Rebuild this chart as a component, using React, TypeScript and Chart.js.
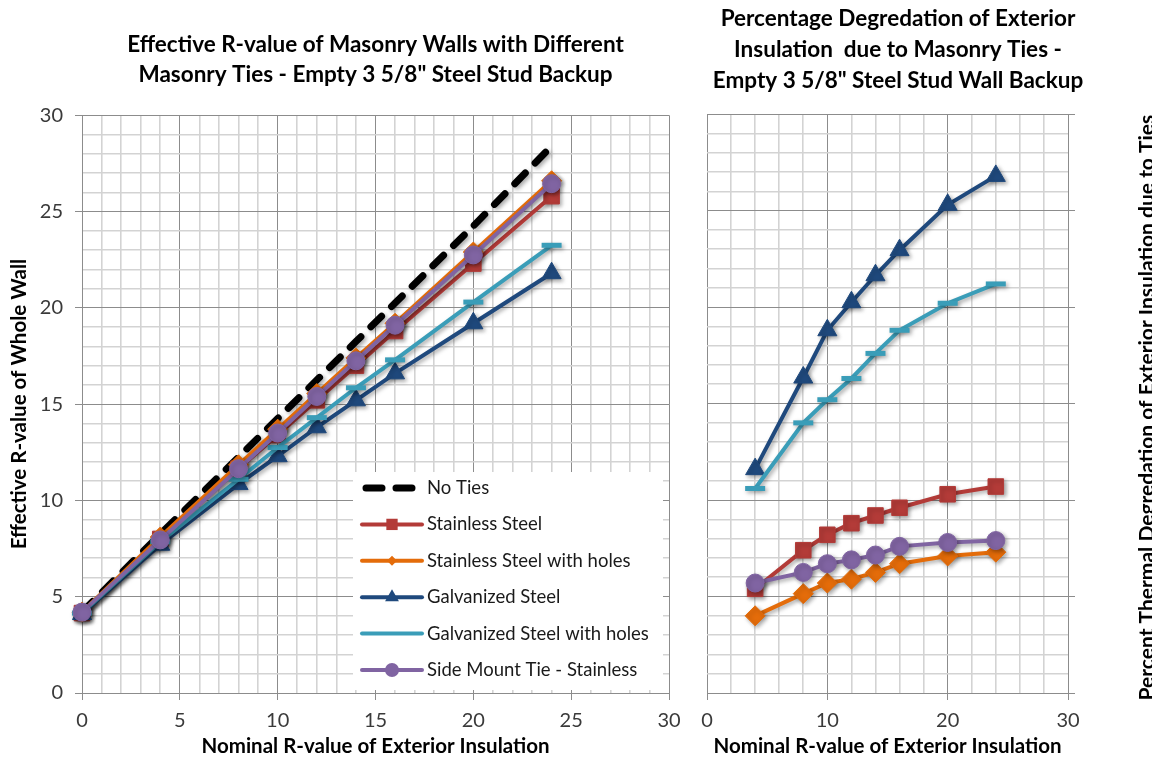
import React, { useEffect, useRef } from 'react';
import { Chart, registerables } from 'chart.js';

Chart.register(...registerables);

// ---------- Data ----------
const xLeft = [0, 4, 8, 10, 12, 14, 16, 20, 24];
const noTies = [4.2, 8.25, 12.25, 14.25, 16.25, 18.25, 20.25, 24.25, 28.4];
const stainless = [4.15, 8.0, 11.65, 13.4, 15.2, 17.0, 18.8, 22.3, 25.8];
const stainlessHoles = [4.2, 8.1, 11.85, 13.7, 15.55, 17.4, 19.2, 22.9, 26.6];
const galvanized = [4.1, 7.7, 10.85, 12.3, 13.8, 15.2, 16.6, 19.2, 21.8];
const galvanizedHoles = [4.15, 7.85, 11.1, 12.75, 14.3, 15.85, 17.3, 20.3, 23.25];
const sideMount = [4.2, 7.95, 11.65, 13.5, 15.4, 17.25, 19.1, 22.75, 26.45];

const xRight = [4, 8, 10, 12, 14, 16, 20, 24];
const pctStainless = [5.4, 7.4, 8.2, 8.8, 9.2, 9.6, 10.3, 10.7];
const pctStainlessHoles = [4.0, 5.15, 5.7, 5.9, 6.25, 6.7, 7.1, 7.3];
const pctGalvanized = [11.6, 16.35, 18.8, 20.25, 21.65, 22.95, 25.3, 26.8];
const pctGalvanizedHoles = [10.6, 14.0, 15.2, 16.3, 17.6, 18.8, 20.2, 21.2];
const pctSideMount = [5.7, 6.25, 6.7, 6.9, 7.15, 7.6, 7.8, 7.9];

const seriesLabels = [
  'No Ties',
  'Stainless Steel',
  'Stainless Steel with holes',
  'Galvanized Steel',
  'Galvanized Steel with holes',
  'Side Mount Tie - Stainless',
];
const seriesColors = ['#000000', '#B33B38', '#E46C0A', '#1F497D', '#3A9DB8', '#8064A2'];
const seriesPointStyles = ['none', 'rect', 'rectRot', 'triangle', 'line', 'circle'];
const seriesPointRadius = [0, 11, 10, 11, 10, 9];

const leftTitle = ['Effective R-value of Masonry Walls with Different', 'Masonry Ties - Empty 3 5/8" Steel Stud Backup'];
const rightTitle = ['Percentage Degredation of Exterior', 'Insulation  due to Masonry Ties -', 'Empty 3 5/8" Steel Stud Wall Backup'];
const xTitle = 'Nominal R-value of Exterior Insulation';
const leftYTitle = 'Effective R-value of Whole Wall';
const rightYTitle = 'Percent Thermal Degredation of Exterior Insulation due to Ties';

const FONT = "Lato, 'Open Sans', 'Liberation Sans', sans-serif";
const MAJOR = '#8c8c8c';
const MINOR = '#d3d3d3';

const pts = (xs: number[], ys: number[]) => xs.map((x, i) => ({ x, y: ys[i] }));

function dataset(i: number, xs: number[], ys: number[]) {
  const color = seriesColors[i];
  const isDash = i === 0;
  return {
    label: seriesLabels[i],
    data: pts(xs, ys),
    borderColor: color,
    backgroundColor: color,
    borderWidth: isDash ? 7 : 4,
    borderDash: isDash ? [15, 14] : [],
    borderCapStyle: isDash ? 'round' : 'butt',
    pointStyle: isDash ? false : seriesPointStyles[i],
    pointRadius: seriesPointRadius[i],
    pointHoverRadius: seriesPointRadius[i],
    pointBorderWidth: seriesPointStyles[i] === 'line' ? 5 : 1,
    pointBorderColor: color,
    pointBackgroundColor: color,
    tension: 0,
    fill: false,
    clip: false as any,
    order: 10 - i,
  };
}

function drawMarker(ctx: CanvasRenderingContext2D, style: string, x: number, y: number, r: number, color: string) {
  ctx.fillStyle = color;
  ctx.beginPath();
  if (style === 'rect') {
    const s = r * Math.SQRT1_2;
    ctx.rect(x - s, y - s, 2 * s, 2 * s);
  } else if (style === 'rectRot') {
    ctx.moveTo(x - r, y);
    ctx.lineTo(x, y - r);
    ctx.lineTo(x + r, y);
    ctx.lineTo(x, y + r);
    ctx.closePath();
  } else if (style === 'triangle') {
    ctx.moveTo(x, y - r);
    ctx.lineTo(x + r * 0.866, y + r * 0.5);
    ctx.lineTo(x - r * 0.866, y + r * 0.5);
    ctx.closePath();
  } else if (style === 'circle') {
    ctx.arc(x, y, r, 0, Math.PI * 2);
  } else {
    return;
  }
  ctx.fill();
}

const shadowPlugin = {
  id: 'seriesShadow',
  beforeDatasetDraw(chart: any) {
    const ctx = chart.ctx;
    ctx.save();
    ctx.shadowColor = 'rgba(0,0,0,0.35)';
    ctx.shadowBlur = 4;
    ctx.shadowOffsetX = 2;
    ctx.shadowOffsetY = 2;
  },
  afterDatasetDraw(chart: any) {
    chart.ctx.restore();
  },
};

const legendPlugin = {
  id: 'boxLegend',
  afterDraw(chart: any) {
    const { ctx, chartArea } = chart;
    const x0 = chartArea.right - 316;
    const y0 = chartArea.bottom - 221;
    ctx.save();
    ctx.fillStyle = '#ffffff';
    ctx.fillRect(x0, y0, 310, 218);
    const legendMarkerR = [0, 8, 5, 8, 0, 7];
    chart.data.datasets.forEach((ds: any, i: number) => {
      const cy = y0 + 16 + i * 36.4;
      const lx0 = x0 + 9;
      const lx1 = x0 + 69;
      const mx = (lx0 + lx1) / 2;
      ctx.strokeStyle = ds.borderColor;
      if (i === 0) {
        ctx.lineWidth = 7;
        ctx.lineCap = 'round';
        ctx.setLineDash([]);
        ctx.beginPath();
        ctx.moveTo(lx0 + 4, cy);
        ctx.lineTo(lx0 + 20, cy);
        ctx.moveTo(lx0 + 34, cy);
        ctx.lineTo(lx0 + 50, cy);
        ctx.stroke();
      } else {
        ctx.lineWidth = 4;
        ctx.lineCap = 'round';
        ctx.beginPath();
        ctx.moveTo(lx0, cy);
        ctx.lineTo(lx1, cy);
        ctx.stroke();
        drawMarker(ctx, seriesPointStyles[i], mx, cy, legendMarkerR[i], ds.borderColor);
      }
      ctx.fillStyle = '#1a1a1a';
      ctx.font = `18.5px ${FONT}`;
      ctx.textAlign = 'left';
      ctx.textBaseline = 'middle';
      ctx.fillText(ds.label, x0 + 74, cy);
    });
    ctx.restore();
  },
};

const rightTitlePlugin = {
  id: 'rightAxisTitle',
  afterDraw(chart: any) {
    const { ctx, chartArea } = chart;
    ctx.save();
    ctx.translate(chartArea.right + 79, (chartArea.top + chartArea.bottom) / 2 + 4);
    ctx.rotate(-Math.PI / 2);
    ctx.font = `bold 21px ${FONT}`;
    ctx.fillStyle = '#000';
    ctx.textAlign = 'center';
    ctx.textBaseline = 'middle';
    ctx.fillText(rightYTitle, 0, 0);
    ctx.restore();
  },
};

function gridOpts(majorEvery: number) {
  return {
    color: (c: any) => (c.tick && Math.round(c.tick.value) % majorEvery === 0 ? MAJOR : MINOR),
    lineWidth: (c: any) => (c.tick && Math.round(c.tick.value) % majorEvery === 0 ? 1 : 1.6),
    tickColor: (c: any) => (c.tick && Math.round(c.tick.value) % majorEvery === 0 ? MAJOR : 'rgba(0,0,0,0)'),
    tickLength: 7,
  };
}

export default function App() {
  const leftRef = useRef<HTMLCanvasElement>(null);
  const rightRef = useRef<HTMLCanvasElement>(null);

  useEffect(() => {
    const left = new Chart(leftRef.current as HTMLCanvasElement, {
      type: 'line',
      data: {
        datasets: [
          dataset(0, xLeft, noTies),
          dataset(1, xLeft, stainless),
          dataset(2, xLeft, stainlessHoles),
          dataset(3, xLeft, galvanized),
          dataset(4, xLeft, galvanizedHoles),
          dataset(5, xLeft, sideMount),
        ] as any,
      },
      options: {
        responsive: false,
        animation: false,
        events: [],
        layout: { padding: { left: 6, right: 21, top: 0, bottom: 0 } },
        plugins: {
          legend: { display: false },
          tooltip: { enabled: false },
          title: {
            display: true,
            fullSize: false,
            text: leftTitle,
            color: '#000',
            font: { family: FONT, size: 22.5, weight: 'bold', lineHeight: 1.34 },
            padding: { top: 30, bottom: 25 },
          },
        },
        scales: {
          x: {
            type: 'linear',
            min: 0,
            max: 30,
            afterFit: (s: any) => { s.height = 68; },
            ticks: {
              stepSize: 1,
              autoSkip: false,
              maxRotation: 0,
              padding: 9,
              color: '#3a3a3a',
              font: { family: FONT, size: 20 },
              callback: (v: any) => (Math.round(Number(v)) % 5 === 0 ? String(v) : ''),
            },
            grid: gridOpts(5) as any,
            border: { color: MAJOR },
            title: {
              display: true,
              text: xTitle,
              color: '#000',
              font: { family: FONT, size: 20.5, weight: 'bold' },
              padding: { top: 0, bottom: 2 },
            },
          },
          y: {
            type: 'linear',
            min: 0,
            max: 30,
            afterFit: (s: any) => { s.width = 76; },
            ticks: {
              stepSize: 1,
              autoSkip: false,
              padding: 12,
              color: '#3a3a3a',
              font: { family: FONT, size: 20 },
              callback: (v: any) => (Math.round(Number(v)) % 5 === 0 ? String(v) : ''),
            },
            grid: gridOpts(5) as any,
            border: { color: MAJOR },
            title: {
              display: true,
              text: leftYTitle,
              color: '#000',
              font: { family: FONT, size: 20.5, weight: 'bold' },
              padding: 1,
            },
          },
        },
      } as any,
      plugins: [shadowPlugin, legendPlugin],
    });

    const right = new Chart(rightRef.current as HTMLCanvasElement, {
      type: 'line',
      data: {
        datasets: [
          dataset(1, xRight, pctStainless),
          dataset(2, xRight, pctStainlessHoles),
          dataset(3, xRight, pctGalvanized),
          dataset(4, xRight, pctGalvanizedHoles),
          dataset(5, xRight, pctSideMount),
        ] as any,
      },
      options: {
        responsive: false,
        animation: false,
        events: [],
        layout: { padding: { left: 17, right: 63, top: 0, bottom: 0 } },
        plugins: {
          legend: { display: false },
          tooltip: { enabled: false },
          title: {
            display: true,
            fullSize: true,
            text: rightTitle,
            color: '#000',
            font: { family: FONT, size: 22.5, weight: 'bold', lineHeight: 1.38 },
            padding: { top: 3, bottom: 18 },
          },
        },
        scales: {
          x: {
            type: 'linear',
            min: 0,
            max: 30,
            afterFit: (s: any) => { s.height = 68; },
            ticks: {
              stepSize: 2,
              autoSkip: false,
              maxRotation: 0,
              padding: 9,
              color: '#3a3a3a',
              font: { family: FONT, size: 20 },
              callback: (v: any) => (Math.round(Number(v)) % 10 === 0 ? String(v) : ''),
            },
            grid: gridOpts(10) as any,
            border: { color: MAJOR },
            title: {
              display: true,
              text: xTitle,
              color: '#000',
              font: { family: FONT, size: 20.5, weight: 'bold' },
              padding: { top: 0, bottom: 2 },
            },
          },
          y: {
            type: 'linear',
            position: 'right',
            min: 0,
            max: 30,
            afterFit: (s: any) => { s.width = 21; },
            ticks: {
              stepSize: 1,
              autoSkip: false,
              padding: 15,
              color: '#3a3a3a',
              font: { family: FONT, size: 20 },
              callback: (v: any) => (Math.round(Number(v)) % 5 === 0 ? `${v}%` : ''),
            },
            grid: gridOpts(5) as any,
            border: { color: MAJOR },
          },
        },
      } as any,
      plugins: [shadowPlugin, rightTitlePlugin],
    });

    return () => {
      left.destroy();
      right.destroy();
    };
  }, []);

  return (
    <div style={{ position: 'fixed', left: 0, top: 0, width: 1152, height: 761, background: '#fff', overflow: 'hidden' }}>
      <canvas ref={leftRef} width={690} height={761} style={{ position: 'absolute', left: 0, top: 0, width: 690, height: 761 }} />
      <canvas ref={rightRef} width={462} height={761} style={{ position: 'absolute', left: 690, top: 0, width: 462, height: 761 }} />
    </div>
  );
}
